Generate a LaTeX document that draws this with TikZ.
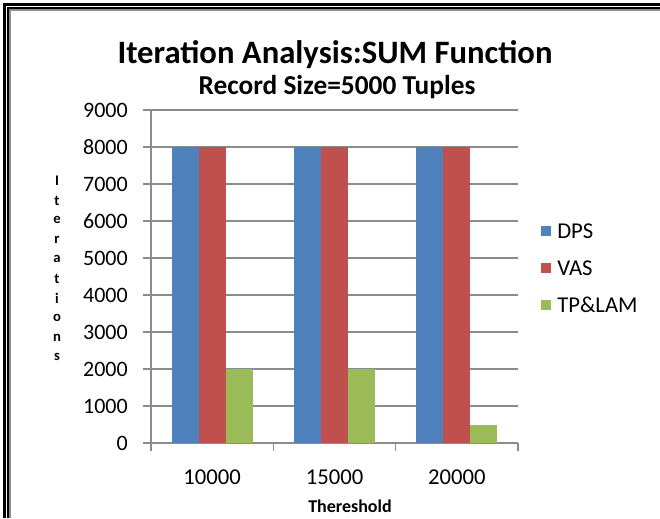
\documentclass[tikz,border=0pt]{standalone}
\usepackage{fontspec}
\setmainfont{Carlito}
\usepackage{xcolor}
\usepackage{tikz}
\usetikzlibrary{positioning}

\definecolor{dpsblue}{HTML}{4F81BD}
\definecolor{vasred}{HTML}{C0504D}
\definecolor{tpgreen}{HTML}{9BBB59}
\definecolor{gridgray}{HTML}{8C8C8C}

\begin{document}
\begin{tikzpicture}[x=0.75pt,y=-0.75pt,
	gridline/.style={draw=gridgray, line width=0.9pt},
	ticklbl/.style={anchor=east, inner sep=0pt, font=\fontsize{16.5}{18}\selectfont},
	catlbl/.style={inner sep=0pt, font=\fontsize{17}{19}\selectfont},
	keylbl/.style={anchor=west, inner sep=0pt, font=\fontsize{17}{19}\selectfont},
	axislbl/.style={inner sep=0pt, font=\fontsize{11}{12}\selectfont\bfseries}]
	\useasboundingbox (0,0) rectangle (660,518);
	\fill[white] (0,0) rectangle (660,518);
	% double frame
	\draw[line width=2.25pt] (4.5,518) -- (4.5,4.5) -- (660,4.5);
	\draw[line width=0.9pt] (8,518) -- (8,8) -- (660,8);
	\draw[gridgray, line width=1.1pt] (10,518) -- (10,10) -- (660,10);
	% titles
	\node[font=\fontsize{24.5}{27}\selectfont\bfseries] (title) at (335,55) {Iteration Analysis:SUM Function};
	\node[font=\fontsize{20.5}{23}\selectfont\bfseries] (subtitle) at (337,87) {Record Size=5000 Tuples};
	% value axis: 37px per 1000
	\foreach \v in {0,1000,...,9000}
	{
		\draw[gridline] (143,443-\v*0.037) -- (518,443-\v*0.037);
		\node[ticklbl] (y\v) at (128,443-\v*0.037) {\v};
	}
	\draw[gridline] (151,110) -- (151,451);
	\foreach \i in {1,2,3}
		\draw[gridline] (151+\i*122.33,443) -- (151+\i*122.33,451);
	% bars per threshold
	\foreach \k/\t/\g in {0/10000/2000,1/15000/2000,2/20000/500}
	{
		\fill[dpsblue] (151+\k*122.33+20.6,443) rectangle (151+\k*122.33+47.6,443-8000*0.037);
		\fill[vasred] (151+\k*122.33+47.6,443) rectangle (151+\k*122.33+74.6,443-8000*0.037);
		\fill[tpgreen] (151+\k*122.33+74.6,443) rectangle (151+\k*122.33+101.6,443-\g*0.037);
		\node[catlbl] (x\t) at (151+\k*122.33+61.2,477) {\t};
	}
	\node[font=\fontsize{13.5}{15}\selectfont\bfseries] (xname) at (350,506) {Thereshold};
	% vertical axis name, one letter per line
	\foreach \c [count=\n from 0] in {I,t,e,r,a,t,i,o,n,s}
		\node[axislbl] (yname\n) at (57,181+\n*19.6) {\c};
	% legend
	\foreach \col/\t [count=\n from 0] in {dpsblue/DPS,vasred/VAS,tpgreen/TP\&LAM}
	{
		\fill[\col] (541,226+\n*37) rectangle (551,236+\n*37);
		\node[keylbl] (key\n) at (557,231+\n*37) {\t};
	}
\end{tikzpicture}
\end{document}
